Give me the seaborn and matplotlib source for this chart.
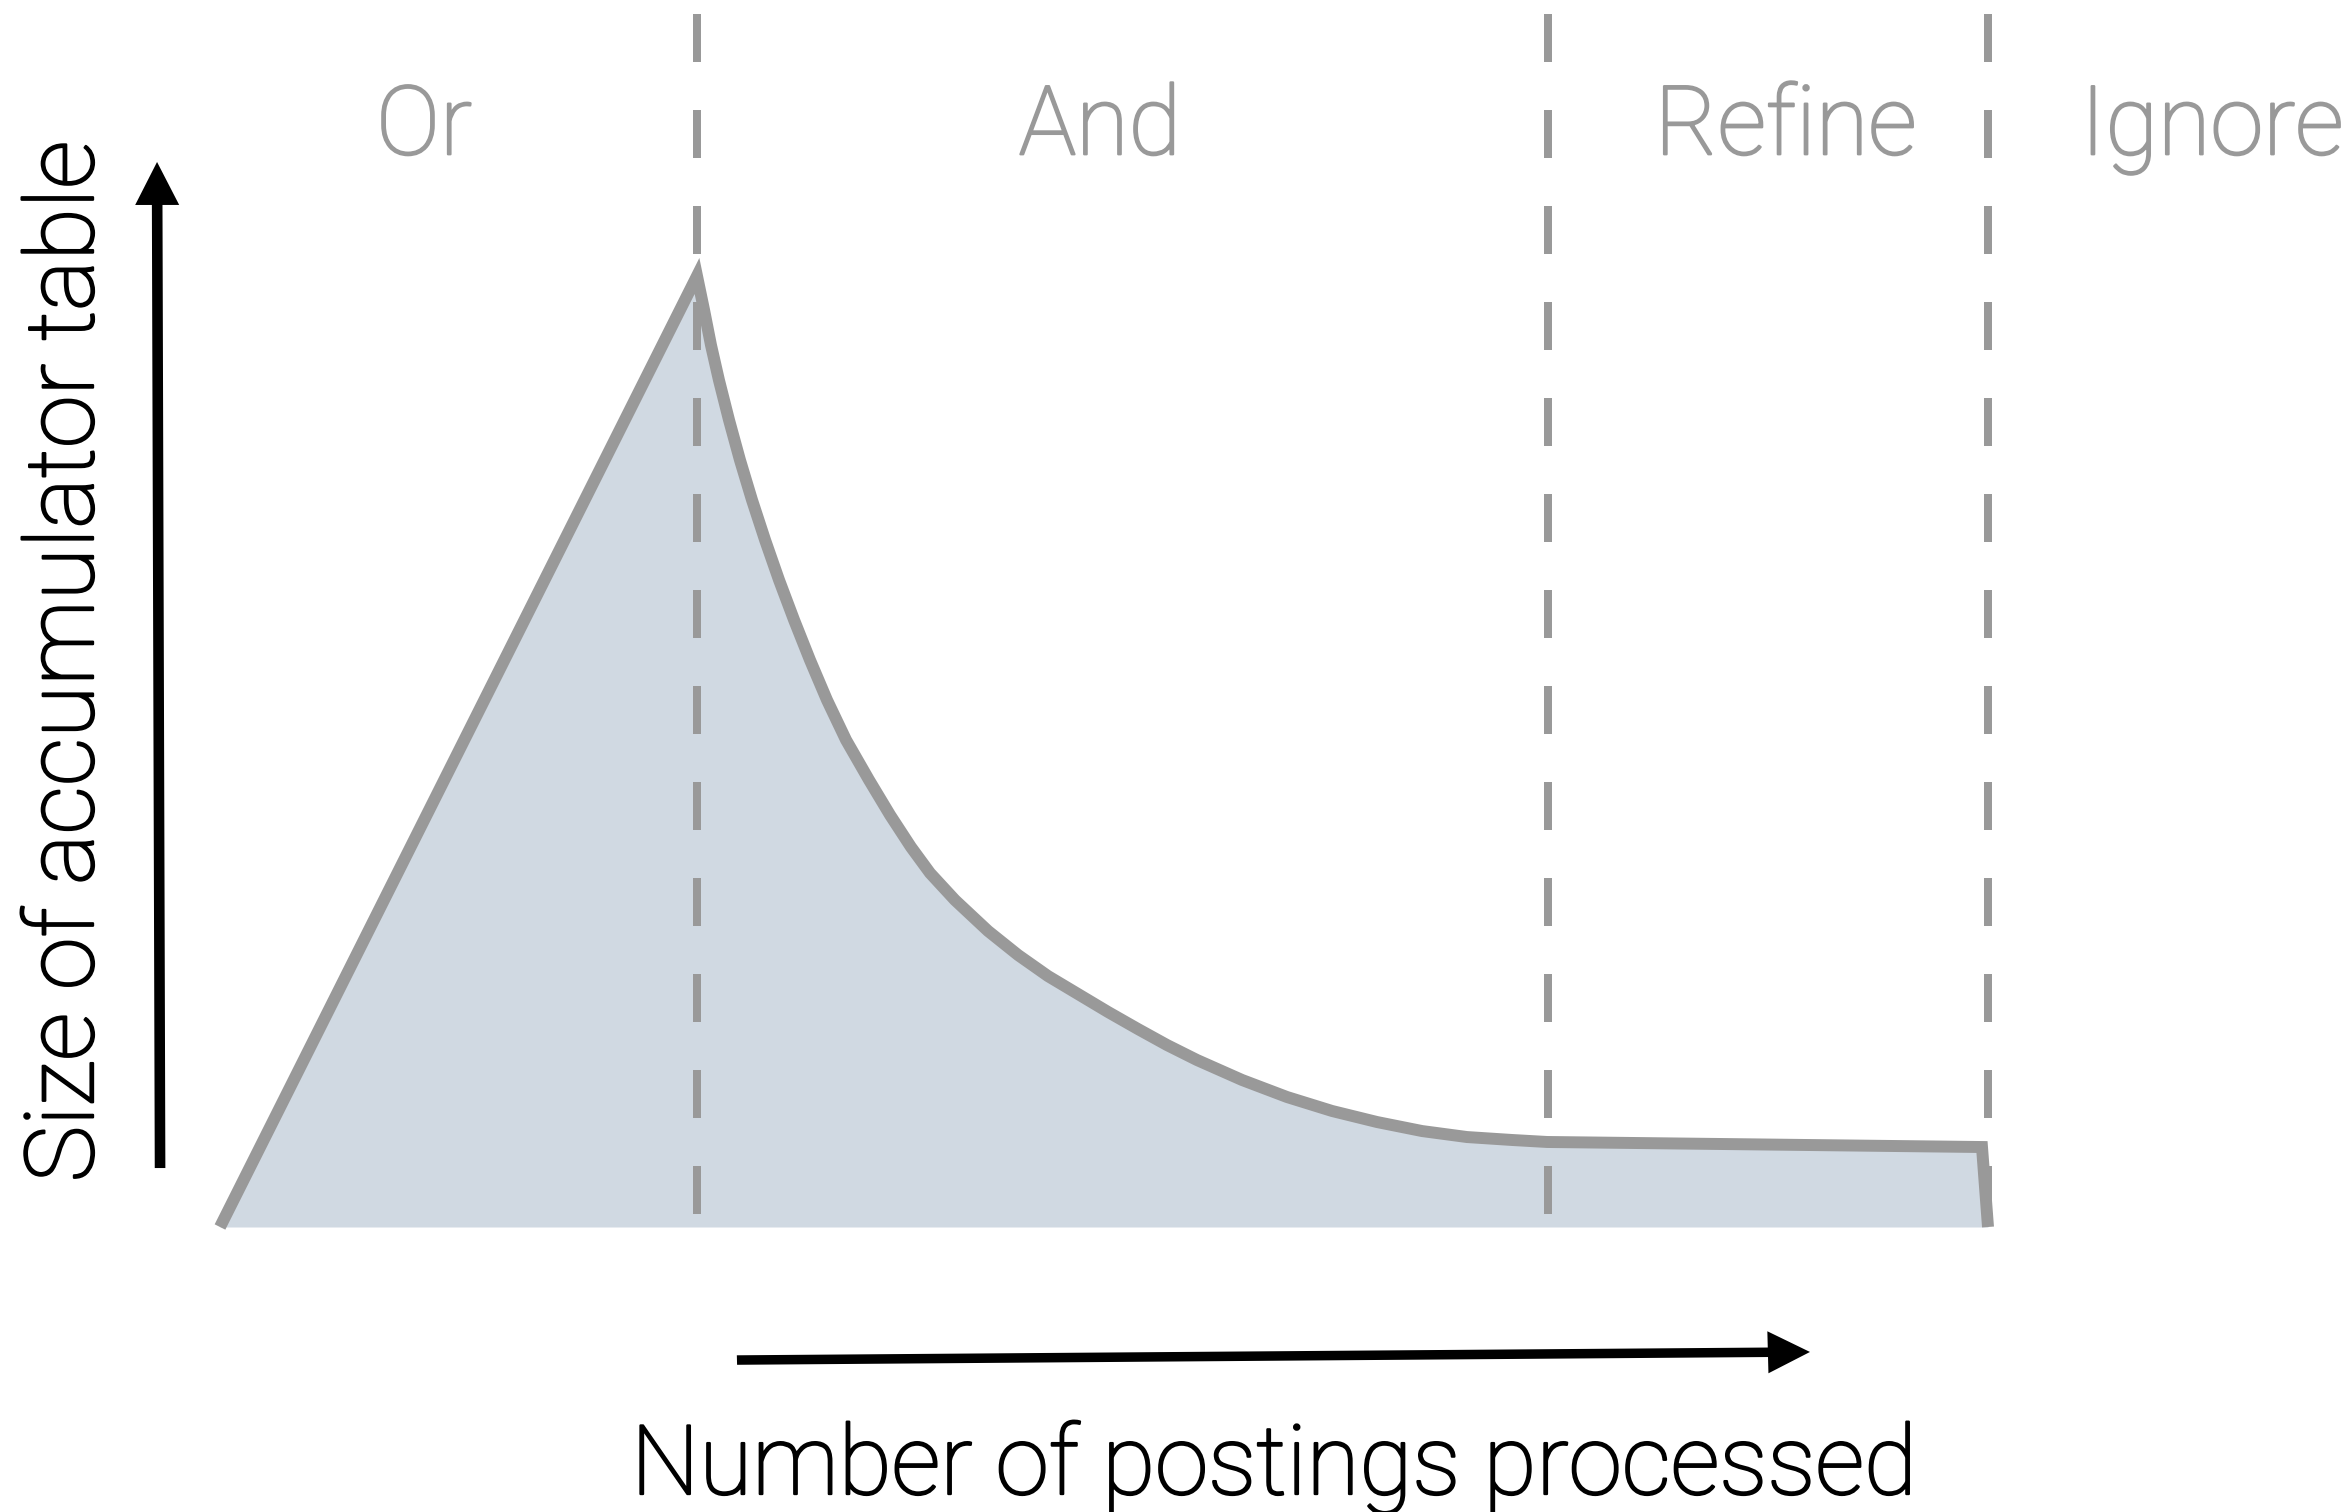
import matplotlib
matplotlib.use("Agg")
import matplotlib.pyplot as plt
import matplotlib.patheffects as pe
import seaborn as sns

# ---- data (postings processed -> accumulator table size, arbitrary units) ----
postings = [0.0, 26.98, 27.38, 27.77, 28.22, 28.79, 29.41, 30.09, 30.83, 31.62,
            32.47, 33.37, 34.33, 35.41, 36.71, 37.90, 39.08, 40.16, 41.57, 43.44,
            45.14, 46.83, 48.53, 50.23, 51.92, 53.56, 55.26, 57.81, 60.35, 62.90,
            65.44, 67.99, 70.53, 73.08, 75.06, 99.66, 100.0]
acc_size = [0.0, 100.0, 96.42, 92.74, 89.06, 84.86, 80.65, 76.45, 72.24, 68.03,
            63.83, 59.62, 55.42, 51.21, 47.00, 43.32, 39.96, 37.22, 34.38, 31.13,
            28.60, 26.39, 24.50, 22.61, 20.82, 19.14, 17.56, 15.46, 13.67, 12.20,
            11.04, 10.09, 9.46, 9.15, 8.94, 8.41, 0.0]
phase_bounds = [26.98, 75.11, 100.0]
phase_labels = ["Or", "And", "Refine", "Ignore"]
phase_label_x = [11.54, 49.77, 88.57, 112.67]
x_label = "Number of postings processed"
y_label = "Size of accumulator table"

LINE = "#999999"
FILL = "#D0D9E2"

sns.set_theme(style="white")
plt.rcParams["font.family"] = ["Roboto", "DejaVu Sans"]

fig = plt.figure(figsize=(23.47, 15.12), dpi=100)
ax = fig.add_axes([0, 0, 1, 1])
ax.set_xlim(-12.443, 120.305)
ax.set_ylim(-29.968, 129.022)
ax.axis("off")

# filled area
ax.fill_between(postings, acc_size, 0, color=FILL, linewidth=0, zorder=1)

# phase boundaries
for xb in phase_bounds:
    ax.plot([xb, xb], [127.55, 1.37], color=LINE, linewidth=5.76,
            linestyle=(0, (6, 6)), dash_capstyle="butt", zorder=2)

# outline
sns.lineplot(x=postings, y=acc_size, sort=False, estimator=None, color=LINE,
             linewidth=8.6, ax=ax, zorder=3)
ln = ax.lines[-1]
ln.set_solid_joinstyle("miter")
ln.set_solid_capstyle("butt")


def bolden(color):
    return [pe.withStroke(linewidth=1.6, foreground=color)]


# phase labels
for lab, xl in zip(phase_labels, phase_label_x):
    ax.text(xl, 112.8, lab, ha="center", va="baseline", fontsize=69,
            color=LINE, fontweight="light", path_effects=bolden(LINE))

# axis arrows
ax.arrow(29.24, -13.99, 60.69, 0.85, width=1.0, head_width=4.42,
         head_length=2.38, length_includes_head=True, color="black",
         linewidth=0, zorder=4)
ax.arrow(-3.39, 6.20, -0.17, 105.79, width=0.6, head_width=2.49,
         head_length=4.52, length_includes_head=True, color="black",
         linewidth=0, zorder=4)

ax.text(59.6, -28.08, x_label, ha="center", va="baseline", fontsize=69.5,
        color="black", fontweight="light", path_effects=bolden("black"))
ax.text(-7.18, 59.4, y_label, ha="center", va="baseline", fontsize=68.6,
        color="black", rotation=90, rotation_mode="anchor", fontweight="light",
        path_effects=bolden("black"))

fig.savefig("out.png", dpi=100, facecolor="white")
